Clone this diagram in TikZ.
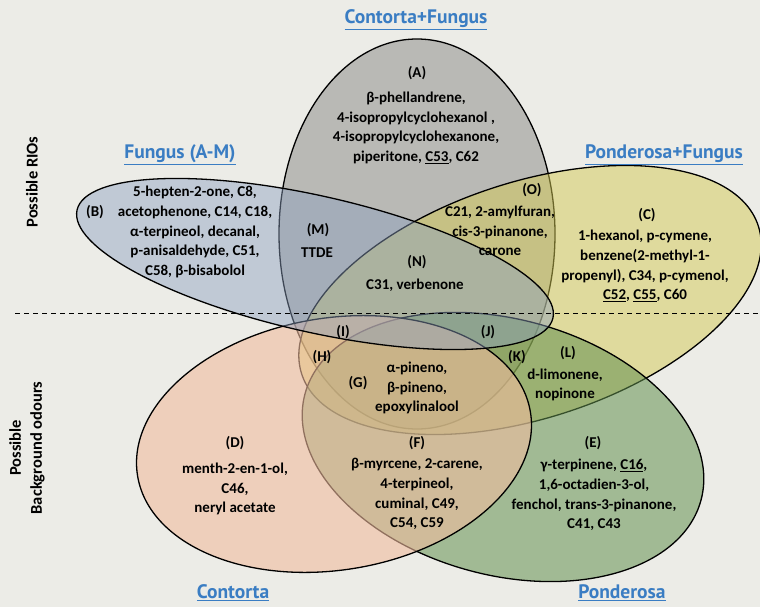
\documentclass[tikz,border=0pt]{standalone}
\usepackage{fontspec}
\setmainfont{Carlito}
\newfontfamily\headfont{PT Sans}
\definecolor{paper}{RGB}{236,236,231}
\definecolor{cfgray}{RGB}{135,135,133}
\definecolor{pfyellow}{RGB}{212,202,84}
\definecolor{pongreen}{RGB}{100,145,80}
\definecolor{conorange}{RGB}{240,188,158}
\definecolor{fungblue}{RGB}{140,160,192}
\definecolor{headblue}{RGB}{58,125,195}

\begin{document}
\begin{tikzpicture}[x=1bp,y=-1bp,
		ring/.style={draw=black, line width=1.3bp, fill opacity=#1},
		tag/.style={font=\bfseries\fontsize{15bp}{17bp}\selectfont},
		blurb/.style={font=\bfseries\fontsize{15bp}{19.7bp}\selectfont, align=center},
		head/.style={font=\headfont\bfseries\fontsize{19.5bp}{22bp}\selectfont, text=headblue},
		side/.style={font=\bfseries\fontsize{16.5bp}{21bp}\selectfont, align=center, rotate=90}]

	\fill[paper] (0,0) rectangle (760,607);
	\useasboundingbox (0,0) rectangle (760,607);

	\draw[ring=0.5, fill=cfgray] (417,234) ellipse [x radius=138, y radius=195];
	\draw[ring=0.5, fill=pfyellow, shift={(530,300)}, rotate=18] (0,0) ellipse [x radius=240, y radius=118];
	\draw[ring=0.55, fill=pongreen, shift={(503,447)}, rotate=-15] (0,0) ellipse [x radius=205, y radius=128];
	\draw[ring=0.6, fill=conorange, shift={(334,444)}, rotate=9.2] (0,0) ellipse [x radius=199, y radius=126];
	\draw[ring=0.45, fill=fungblue, shift={(315,264)}, rotate=-12.8] (0,0) ellipse [x radius=244, y radius=68];

	\coordinate (dashL) at (15,313);
	\coordinate (dashR) at (760,313);
	\draw[line width=0.9bp, dash pattern=on 5bp off 4bp] (dashL) -- (dashR);

	\node[head] (hCF) at (416,20) {\underline{Contorta+Fungus}};
	\node[head] (hF) at (180,155) {\underline{Fungus (A-M)}};
	\node[head] (hPF) at (664,155) {\underline{Ponderosa+Fungus}};
	\node[head] (hC) at (233,593) {\underline{Contorta}};
	\node[head] (hP) at (622,593) {\underline{Ponderosa}};

	\node[side] (sRIO) at (32,182) {Possible RIOs};
	\node[side] (sBG) at (27,448) {Possible\\Background odours};

	\node[tag] (lblA) at (417,73) {(A)};
	\node[blurb] (txtA) at (416,128) {β-phellandrene,\\4-isopropylcyclohexanol ,\\4-isopropylcyclohexanone,\\piperitone, \underline{C53}, C62};
	\node[tag] (lblB) at (95,212) {(B)};
	\node[blurb] (txtB) at (195,232) {5-hepten-2-one, C8,\\acetophenone, C14, C18,\\α-terpineol, decanal,\\p-anisaldehyde, C51,\\C58, β-bisabolol};
	\node[tag] (lblC) at (647,215) {(C)};
	\node[blurb] (txtC) at (645,266) {1-hexanol, p-cymene,\\benzene(2-methyl-1-\\propenyl), C34, p-cymenol,\\\underline{C52}, \underline{C55}, C60};
	\node[tag] (lblO) at (532,190) {(O)};
	\node[blurb] (txtO) at (500,231) {C21, 2-amylfuran,\\cis-3-pinanone,\\carone};
	\node[tag] (lblM) at (318,230) {(M)};
	\node[blurb] (txtM) at (317,253) {TTDE};
	\node[tag] (lblN) at (417,262) {(N)};
	\node[blurb] (txtN) at (415,285) {C31, verbenone};
	\node[tag] (lblI) at (343,332) {(I)};
	\node[tag] (lblJ) at (488,332) {(J)};
	\node[tag] (lblH) at (322,357) {(H)};
	\node[tag] (lblK) at (517,357) {(K)};
	\node[tag] (lblG) at (358,383) {(G)};
	\node[blurb] (txtG) at (417,388) {α-pineno,\\β-pineno,\\epoxylinalool};
	\node[tag] (lblL) at (568,353) {(L)};
	\node[blurb] (txtL) at (565,385) {d-limonene,\\nopinone};
	\node[tag] (lblD) at (235,443) {(D)};
	\node[blurb] (txtD) at (235,489) {menth-2-en-1-ol,\\C46,\\neryl acetate};
	\node[tag] (lblF) at (417,443) {(F)};
	\node[blurb] (txtF) at (417,494) {β-myrcene, 2-carene,\\4-terpineol,\\cuminal, C49,\\C54, C59};
	\node[tag] (lblE) at (593,443) {(E)};
	\node[blurb] (txtE) at (594,495) {γ-terpinene, \underline{C16},\\1,6-octadien-3-ol,\\fenchol, trans-3-pinanone,\\C41, C43};
\end{tikzpicture}
\end{document}
